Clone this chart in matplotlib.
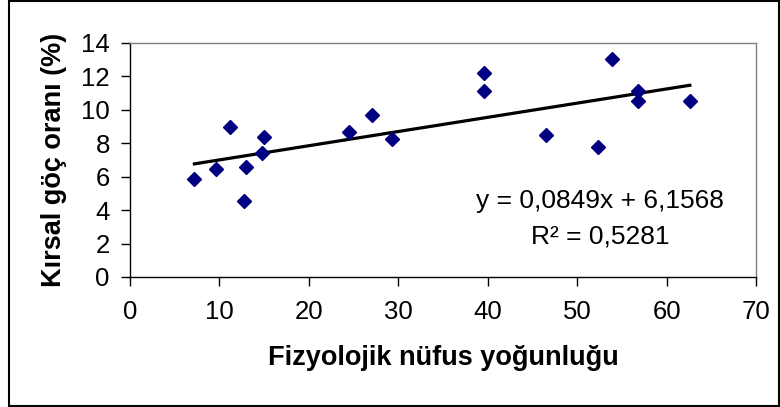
import matplotlib
matplotlib.use("Agg")
import matplotlib.pyplot as plt
import numpy as np
from matplotlib.patches import Rectangle

plt.rcParams["font.family"] = ["Liberation Sans", "DejaVu Sans"]

# --- data ---
density = [7.2, 9.6, 11.2, 12.8, 13.0, 14.8, 15.0, 24.5, 27.1, 29.3,
           39.6, 39.6, 46.5, 52.3, 53.9, 56.8, 56.8, 62.6]
migration = [5.85, 6.45, 8.95, 4.55, 6.6, 7.4, 8.4, 8.65, 9.68, 8.25,
             12.22, 11.15, 8.5, 7.8, 13.05, 11.15, 10.52, 10.52]
slope = 0.0849
intercept = 6.1568
r2 = 0.5281
xticks = [0, 10, 20, 30, 40, 50, 60, 70]
yticks = [0, 2, 4, 6, 8, 10, 12, 14]

fig = plt.figure(figsize=(7.8, 4.07), dpi=100)
ax = fig.add_axes([130 / 780, 1 - 277 / 407, 626 / 780, 234 / 407])

ax.plot(density, migration, linestyle="none", marker="D", markersize=6.8,
        color="#000080", markeredgecolor="#000080", zorder=3)

# linear trendline over the data range
xs = np.array([min(density), max(density)])
ax.plot(xs, slope * xs + intercept, color="black", linewidth=2.3, zorder=2)

ax.set_xlim(0, 70)
ax.set_ylim(0, 14)
ax.set_xticks(xticks)
ax.set_yticks(yticks)
ax.tick_params(axis="both", direction="out", length=6.5, width=1,
               labelsize=18.5, color="black")
ax.tick_params(axis="x", pad=10)
ax.tick_params(axis="y", pad=8)

for side in ("left", "bottom"):
    ax.spines[side].set_color("black")
    ax.spines[side].set_linewidth(1)
for side in ("top", "right"):
    ax.spines[side].set_color("#808080")
    ax.spines[side].set_linewidth(1)

ax.set_xlabel("Fizyolojik nüfus yoğunluğu", fontsize=19.5, fontweight="bold", va="top")
ax.set_ylabel("Kırsal göç oranı (%)", fontsize=19.5, fontweight="bold", va="bottom")
ax.xaxis.set_label_coords(0.5, -0.29)
ax.yaxis.set_label_coords(-0.1, 0.5)

ax.text(0.751, 0.325, f"y = {slope:.4f}x + {intercept:.4f}".replace(".", ","),
        transform=ax.transAxes, ha="center", va="center", fontsize=19)
ax.text(0.751, 0.171, f"R² = {r2:.4f}".replace(".", ","),
        transform=ax.transAxes, ha="center", va="center", fontsize=19)

# outer chart border
fig.patches.append(Rectangle((9 / 780, 1 / 407), 770 / 780, 405 / 407,
                             transform=fig.transFigure, fill=False,
                             edgecolor="black", linewidth=1.5))

fig.savefig("out.png", dpi=100)
